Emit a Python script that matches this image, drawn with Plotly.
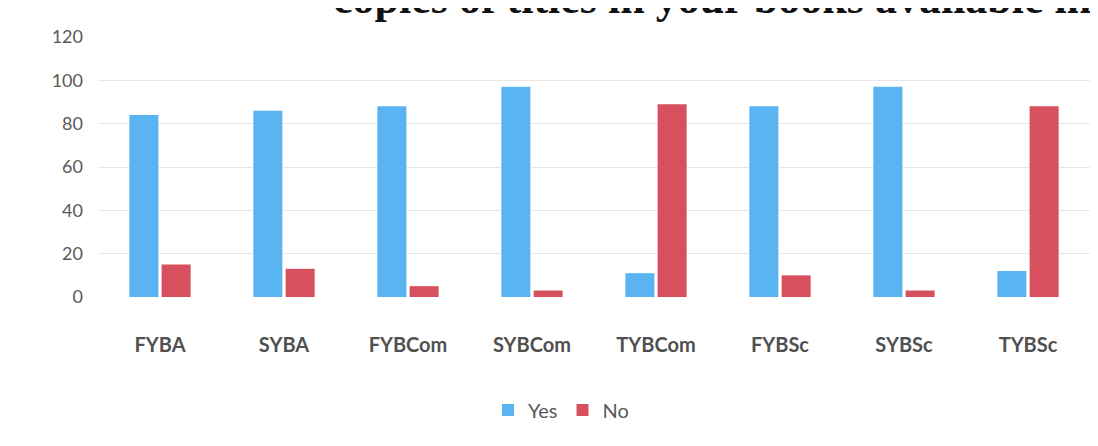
import plotly.graph_objects as go

categories = ["FYBA", "SYBA", "FYBCom", "SYBCom", "TYBCom", "FYBSc", "SYBSc", "TYBSc"]
yes_values = [84, 86, 88, 97, 11, 88, 97, 12]
no_values = [15, 13, 5, 3, 89, 10, 3, 88]
y_ticks = [0, 20, 40, 60, 80, 100, 120]
title_text = "copies of titles in your books available in"

YES_COLOR = "#5AB4F2"
NO_COLOR = "#D6505E"

fig = go.Figure()
fig.add_trace(go.Bar(name="Yes", x=categories, y=yes_values, marker_color=YES_COLOR, marker_line_width=0))
fig.add_trace(go.Bar(name="No", x=categories, y=no_values, marker_color=NO_COLOR, marker_line_width=0))

# page is offset by 8px body margin
W, H = 1090, 438
ml, mr, mt, mb = 90, 8, 29, 149
PW, PH = W - ml - mr, H - mt - mb

fig.update_layout(
    width=W, height=H,
    margin=dict(l=ml, r=mr, t=mt, b=mb, pad=0),
    paper_bgcolor="white", plot_bgcolor="white",
    barmode="group", bargap=0.48, bargroupgap=0.1,
    font=dict(family="Lato, Open Sans, sans-serif", color="#595959"),
    showlegend=True,
    legend=dict(orientation="h", x=(553 - ml) / PW, xanchor="center",
                y=-(402 - (mt + PH)) / PH, yanchor="middle", itemwidth=30,
                font=dict(size=20, color="#595959"), traceorder="normal"),
    xaxis=dict(showgrid=False, showline=False, zeroline=False, ticks="",
               tickfont=dict(size=20, color="#505050", family="Lato, sans-serif", weight="bold"),
               ticklabelstandoff=34),
    yaxis=dict(range=[0, 120], tickvals=y_ticks, showgrid=True, gridcolor="#e6e6e6", gridwidth=1,
               zeroline=False, showline=False, ticks="",
               tickfont=dict(size=18, color="#595959"), ticklabelstandoff=14),
)

fig.add_annotation(
    text=title_text, xref="paper", yref="paper", x=(1085 - ml) / PW, xanchor="right",
    y=1 + 12 / PH, yanchor="bottom", showarrow=False,
    font=dict(family="Liberation Serif, Times New Roman, serif", size=44, color="#111111", weight="bold"),
)

fig.write_html("out.html")
